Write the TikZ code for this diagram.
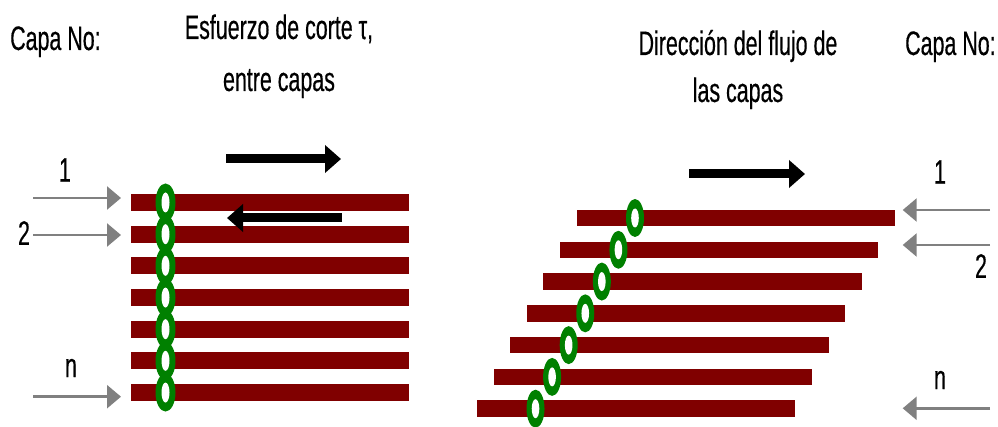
\documentclass[tikz,border=0pt]{standalone}
\usepackage{fontspec}
\setmainfont{Liberation Sans}[FakeStretch=0.63,FakeBold=0.4]
\usetikzlibrary{arrows.meta}
\definecolor{barred}{RGB}{128,0,0}
\definecolor{ringgreen}{RGB}{0,128,0}
\definecolor{arrgray}{RGB}{128,128,128}
\begin{document}
\begin{tikzpicture}[x=1pt,y=-1pt,
  lbl/.style={font=\fontsize{34}{34}\selectfont, inner sep=0pt},
  bar/.style={fill=barred, draw=none, inner sep=0pt, minimum height=17pt},
  ring/.style={fill=ringgreen},
  hole/.style={fill=white},
  grayarrow/.style={draw=arrgray, line width=2.5pt, -{Triangle[length=14pt,width=23pt]}},
  blackarrow/.style={draw=black, line width=9pt, -{Triangle[length=16pt,width=27pt]}}]
\useasboundingbox (0,0) rectangle (998,427);

% titles
\node[lbl, anchor=base west] (capaL) at (10,50) {Capa No:};
\node[lbl, anchor=base, align=center, font=\fontsize{34}{52}\selectfont] (tauT) at (279,91) {Esfuerzo de corte τ,\\entre capas};
\node[lbl, anchor=base, align=center, font=\fontsize{34}{47}\selectfont] (flowT) at (738,102) {Dirección del flujo de\\las capas};
\node[lbl, anchor=base west] (capaR) at (905,55) {Capa No:};

% left stack
\foreach \i in {0,...,6} {
  \pgfmathsetmacro\yc{202.5+31.67*\i}
  \node[bar, minimum width=278pt] (L\i) at (270,\yc) {};
}
\foreach \i in {0,...,6} {
  \pgfmathsetmacro\yc{202.5+31.67*\i}
  \fill[ring] (165.5,\yc) ellipse [x radius=10, y radius=19];
}
\foreach \i in {0,...,6} {
  \pgfmathsetmacro\yc{202.5+31.67*\i}
  \fill[hole] (165.5,\yc) ellipse [x radius=4, y radius=10];
}

% right stack
\foreach \i in {0,...,6} {
  \pgfmathsetmacro\yc{218+31.78*\i}
  \pgfmathsetmacro\xc{735.8-16.6*\i}
  \node[bar, minimum width=318.5pt, minimum height=16.5pt] (R\i) at (\xc,\yc) {};
}
\foreach \i in {0,...,6} {
  \pgfmathsetmacro\yc{218+31.78*\i}
  \pgfmathsetmacro\xc{635-16.58*\i}
  \fill[ring] (\xc,\yc) ellipse [x radius=9, y radius=19];
  \fill[hole] (\xc,\yc) ellipse [x radius=3.8, y radius=9.5];
}

% black arrows
\coordinate (bA1) at (226,159); \coordinate (bA2) at (341,159);
\coordinate (bB1) at (342,218); \coordinate (bB2) at (227,218);
\coordinate (bC1) at (689,174); \coordinate (bC2) at (805,174);
\draw[blackarrow] (bA1) -- (bA2);
\draw[blackarrow] (bB1) -- (bB2);
\draw[blackarrow] (bC1) -- (bC2);

% left gray arrows and labels
\coordinate (g1s) at (33,198);   \coordinate (g1e) at (121,198);
\coordinate (g2s) at (33,235);   \coordinate (g2e) at (121,235);
\coordinate (gns) at (33,396.7); \coordinate (gne) at (121,396.7);
\draw[grayarrow] (g1s) -- (g1e);
\draw[grayarrow] (g2s) -- (g2e);
\draw[grayarrow] (gns) -- (gne);
\node[lbl] (n1L) at (65,170) {1};
\node[lbl] (n2L) at (24,233) {2};
\node[lbl] (nnL) at (71,368) {n};

% right gray arrows and labels
\coordinate (h1s) at (990,210);   \coordinate (h1e) at (902.7,210);
\coordinate (h2s) at (990,245);   \coordinate (h2e) at (902.7,245);
\coordinate (hns) at (990,408.3); \coordinate (hne) at (902.7,408.3);
\draw[grayarrow] (h1s) -- (h1e);
\draw[grayarrow] (h2s) -- (h2e);
\draw[grayarrow] (hns) -- (hne);
\node[lbl] (n1R) at (940,172) {1};
\node[lbl] (n2R) at (981,266) {2};
\node[lbl] (nnR) at (940,380) {n};
\end{tikzpicture}
\end{document}
